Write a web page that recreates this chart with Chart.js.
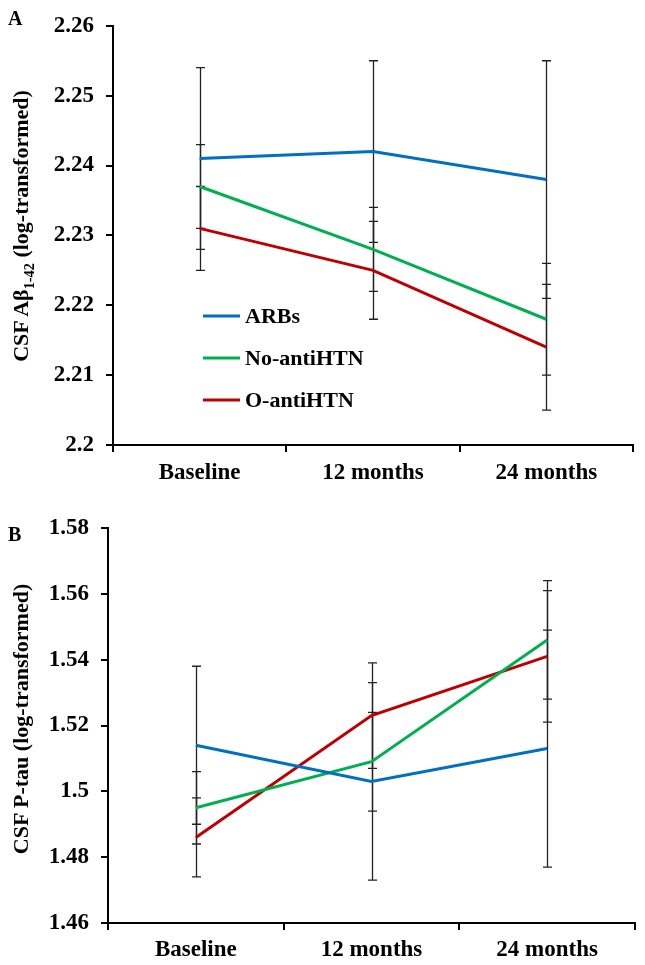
<!DOCTYPE html>
<html>
<head>
<meta charset="utf-8">
<script src="https://cdn.jsdelivr.net/npm/chart.js@4/dist/chart.umd.min.js"></script>
<style>
    html, body { margin: 0; padding: 0; background: #fff; }
    #page { position: relative; width: 645px; height: 965px; font-family: "Liberation Serif", "Times New Roman", serif; font-weight: bold; color: #000; }
    .panel { position: absolute; left: 0; }
    .letter { position: absolute; left: 8px; font-size: 20px; }
    .ytitle { position: absolute; font-size: 22px; white-space: nowrap; transform: translate(-50%, -50%) rotate(-90deg); }
    .ytitle sub { font-size: 0.65em; }
</style>
</head>
<body>
<div id="page">
    <div class="panel" style="top:0"><canvas id="chartA" width="645" height="485"></canvas></div>
    <div class="panel" style="top:485px"><canvas id="chartB" width="645" height="480"></canvas></div>
    <div class="letter" style="top:7px">A</div>
    <div class="letter" style="top:523px">B</div>
    <div class="ytitle" style="left:23px; top:226px">CSF Aβ<sub>1-42</sub> (log-transformed)</div>
    <div class="ytitle" style="left:21px; top:719px">CSF P-tau (log-transformed)</div>
</div>
<script>
// time points and groups
const timepoints = ['Baseline', '12 months', '24 months'];
const groups = ['ARBs', 'No-antiHTN', 'O-antiHTN'];
const groupColors = ['#0070C0', '#00B050', '#C00000'];

// panel A: CSF Abeta 1-42, means and error half-widths
const abArbs = [2.241, 2.242, 2.238];
const abNoAnti = [2.237, 2.228, 2.218];
const abOAnti = [2.231, 2.225, 2.214];
const abArbsErr = [0.013, 0.013, 0.017];
const abNoAntiErr = [0.006, 0.006, 0.008];
const abOAntiErr = [0.006, 0.007, 0.009];
const abTicks = { min: 2.2, max: 2.26, step: 0.01 };

// panel B: CSF P-tau
const tauArbs = [1.514, 1.503, 1.513];
const tauNoAnti = [1.495, 1.509, 1.546];
const tauOAnti = [1.486, 1.523, 1.541];
const tauArbsErr = [0.024, 0.030, 0.036];
const tauNoAntiErr = [0.011, 0.015, 0.018];
const tauOAntiErr = [0.012, 0.016, 0.020];
const tauTicks = { min: 1.46, max: 1.58, step: 0.02 };

const FONT = '"Liberation Serif", "Times New Roman", serif';

// vertical error bars with caps, drawn under the lines
const errorBars = {
    id: 'errorBars',
    beforeDatasetsDraw(chart) {
        const ctx = chart.ctx;
        const y = chart.scales.y;
        ctx.save();
        ctx.strokeStyle = '#222';
        ctx.lineWidth = 1.3;
        chart.data.datasets.forEach((ds, i) => {
            const meta = chart.getDatasetMeta(i);
            ds.data.forEach((v, j) => {
                const e = ds.errors[j];
                const x = Math.round(meta.data[j].x) + 0.5;
                const top = y.getPixelForValue(v + e);
                const bot = y.getPixelForValue(v - e);
                ctx.beginPath();
                ctx.moveTo(x, top); ctx.lineTo(x, bot);
                ctx.moveTo(x - 4.5, top); ctx.lineTo(x + 4.5, top);
                ctx.moveTo(x - 4.5, bot); ctx.lineTo(x + 4.5, bot);
                ctx.stroke();
            });
        });
        ctx.restore();
    }
};

// legend placed inside the plot area (panel A only)
const insideLegend = {
    id: 'insideLegend',
    afterDraw(chart, args, opts) {
        if (!opts.show) return;
        const ctx = chart.ctx;
        ctx.save();
        ctx.font = 'bold 22px ' + FONT;
        ctx.textBaseline = 'middle';
        ctx.fillStyle = '#000';
        chart.data.datasets.forEach((ds, i) => {
            const yy = opts.y + i * opts.gap;
            ctx.strokeStyle = ds.borderColor;
            ctx.lineWidth = 3;
            ctx.beginPath();
            ctx.moveTo(opts.x, yy); ctx.lineTo(opts.x + 37, yy);
            ctx.stroke();
            ctx.fillText(ds.label, opts.x + 42, yy + 1);
        });
        ctx.restore();
    }
};

function makeDatasets(means, errs) {
    return groups.map((g, i) => ({
        label: g,
        data: means[i],
        errors: errs[i],
        borderColor: groupColors[i],
        backgroundColor: groupColors[i],
        borderWidth: 3,
        pointRadius: 0,
        tension: 0,
        fill: false
    }));
}

function makeChart(id, means, errs, ticks, lay, legend) {
    const ctx = document.getElementById(id);
    return new Chart(ctx.getContext('2d'), {
        type: 'line',
        data: { labels: timepoints, datasets: makeDatasets(means, errs) },
        plugins: [errorBars, insideLegend],
        options: {
            responsive: false,
            animation: false,
            layout: { padding: { top: lay.top, right: lay.right, bottom: 0, left: 0 } },
            scales: {
                x: {
                    offset: true,
                    afterFit: s => { s.height = lay.xh; },
                    grid: { offset: true, drawOnChartArea: false, drawTicks: true, tickLength: 7, color: '#000', lineWidth: 2 },
                    border: { display: true, color: '#000', width: 2 },
                    ticks: { color: '#000', padding: lay.xpad, maxRotation: 0, font: { family: FONT, size: 23, weight: 'bold' } }
                },
                y: {
                    min: ticks.min,
                    max: ticks.max,
                    afterFit: s => { s.width = lay.yw; },
                    grid: { drawOnChartArea: false, drawTicks: true, tickLength: 7, color: '#000', lineWidth: 2 },
                    border: { display: true, color: '#000', width: 2 },
                    ticks: {
                        stepSize: ticks.step,
                        color: '#000',
                        padding: 12,
                        font: { family: FONT, size: 23, weight: 'bold' },
                        callback: v => String(parseFloat(Number(v).toFixed(3)))
                    }
                }
            },
            plugins: {
                legend: { display: false },
                tooltip: { enabled: false },
                insideLegend: legend
            }
        }
    });
}

makeChart('chartA',
    [abArbs, abNoAnti, abOAnti],
    [abArbsErr, abNoAntiErr, abOAntiErr],
    abTicks,
    { top: 22, right: 12, xh: 40, yw: 113, xpad: 7 },
    { show: true, x: 203, y: 316, gap: 42 });

makeChart('chartB',
    [tauArbs, tauNoAnti, tauOAnti],
    [tauArbsErr, tauNoAntiErr, tauOAntiErr],
    tauTicks,
    { top: 43, right: 10, xh: 42, yw: 108, xpad: 6 },
    { show: false });
</script>
</body>
</html>
